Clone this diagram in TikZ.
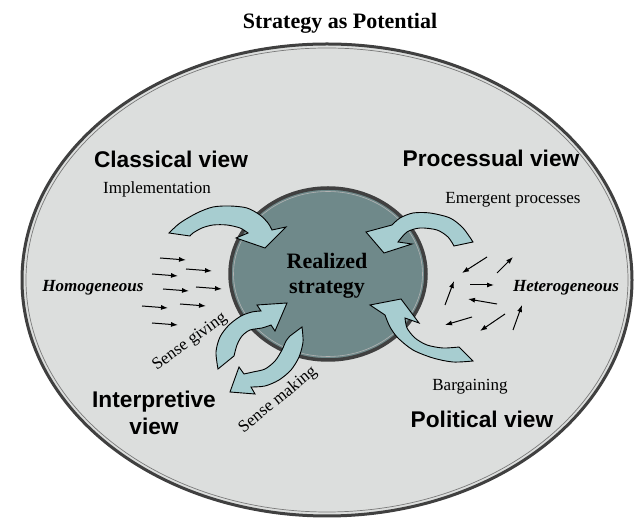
\documentclass[tikz,border=0pt]{standalone}
\usepackage{fontspec}
\setmainfont{Liberation Serif}
\newfontfamily\viewfont{Liberation Sans}
\usetikzlibrary{arrows.meta}

\definecolor{potential}{HTML}{DCDEDD}
\definecolor{rim}{HTML}{404040}
\definecolor{core}{HTML}{6F898A}
\definecolor{swirl}{HTML}{A7CDD0}

\tikzset{
  view/.style={font=\viewfont\bfseries\fontsize{22.7}{26}\selectfont},
  note/.style={font=\fontsize{17}{20}\selectfont},
  trend/.style={font=\bfseries\itshape\fontsize{17}{20}\selectfont},
  swirlarrow/.style={draw=black, line width=0.9, fill=swirl, line join=miter},
  push/.style={-{Latex[length=7,width=5]}, line width=1},
}

\begin{document}
\begin{tikzpicture}[x=1pt,y=1pt]
\useasboundingbox (0,0) rectangle (643,519);

\fill[potential] (327,239) ellipse [x radius=306, y radius=237];
\draw[rim, line width=3] (327,239) ellipse [x radius=305, y radius=236];
\draw[rim!70, line width=0.7] (327,239) ellipse [x radius=301, y radius=232];

\fill[core] (328,245) ellipse [x radius=99, y radius=87];
\draw[rim, line width=3.5] (328,245) ellipse [x radius=98, y radius=86];
\draw[gray!60, line width=0.6] (328,245) ellipse [x radius=94.5, y radius=82.5];

\node[font=\bfseries\fontsize{22}{26}\selectfont] (title) at (340,496) {Strategy as Potential};

\draw[swirlarrow] plot[smooth] coordinates {(169,286) (180,296) (197,306) (213,312) (230,313) (247,311) (260,304) (268,296) (272,289)}
  -- (286,292) -- (265,271) -- (236,281)
  -- plot[smooth] coordinates {(248,286) (240,291) (227,294) (213,294) (202,291) (193,286) (190,283)} -- cycle;
\draw[swirlarrow] plot[smooth] coordinates {(473,277) (463,291) (450,301) (430,306) (413,306) (400,301) (392,294)}
  -- (366,287) -- (384,266) -- (412,275)
  -- plot[smooth] coordinates {(398,277) (407,287) (420,291) (437,289) (448,282) (454,273)} -- cycle;
\draw[swirlarrow] plot[smooth] coordinates {(473,158) (453,157) (433,161) (413,169) (398,181) (390,192) (385,204)}
  -- (370,214) -- (401,220) -- (419,196)
  -- plot[smooth] coordinates {(405,201) (407,191) (415,181) (427,174) (443,171) (459,172)} -- cycle;
\draw[swirlarrow] plot[smooth] coordinates {(218,150) (216,167) (220,182) (229,194) (241,203) (252,207) (261,208)}
  -- (257,214) -- (287,216) -- (275,188)
  -- plot[smooth] coordinates {(271,194) (262,191) (250,189) (242,183) (237,174) (234,163)} -- cycle;
\draw[swirlarrow] plot[smooth] coordinates {(302,192) (303,177) (299,162) (291,149) (279,139) (265,133) (251,132)}
  -- (255,125) -- (230,127) -- (239,152)
  -- plot[smooth] coordinates {(244,145) (253,147) (265,150) (275,158) (282,169) (286,178) (290,183)} -- cycle;

\node[font=\bfseries\fontsize{22}{25.6}\selectfont, align=center] (realized) at (327,243) {Realized\\strategy};

\node[view] (classical) at (171,360) {Classical view};
\node[note] (implement) at (157,330) {Implementation};
\node[view] (processual) at (491,361) {Processual view};
\node[note] (emergent) at (513,319) {Emergent processes};
\node[trend] (homog) at (93,231) {Homogeneous};
\node[trend] (heterog) at (566,231) {Heterogeneous};
\node[view, align=center, font=\viewfont\bfseries\fontsize{22.7}{26.7}\selectfont] (interpretive) at (154,106) {Interpretive\\view};
\node[view] (political) at (482,100) {Political view};
\node[note] (bargain) at (470,132) {Bargaining};
\node[note, rotate=36] (giving) at (190,177) {Sense giving};
\node[note, rotate=39] (making) at (278,119) {Sense making};

\foreach \x/\y in {160/261, 186/250, 152/245, 163/230, 196/232, 142/213, 180/215, 152/196}
  \draw[push] (\x,\y) -- ++(26,-2);
\foreach \x/\y/\dx/\dy in {487/262/-25/-16, 497/246/16/16, 445/214/9/24, 470/234/24/0,
    497/215/-29/5, 472/202/-27/-8, 505/205/-25/-17, 513/189/9/25}
  \draw[push] (\x,\y) -- ++(\dx,\dy);
\end{tikzpicture}
\end{document}
